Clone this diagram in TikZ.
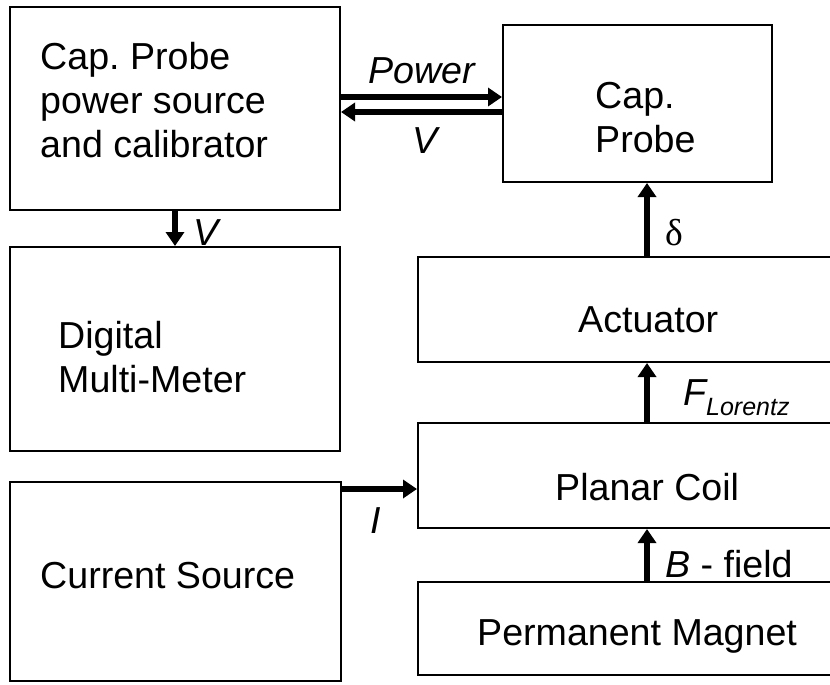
\documentclass[tikz,border=0pt]{standalone}
\usepackage{fontspec}
\setmainfont{Liberation Sans}
\newfontfamily\greekfont{Liberation Serif}
\usetikzlibrary{arrows.meta}
\frenchspacing

\begin{document}
\begin{tikzpicture}[
    x=1pt, y=-1pt,
    every node/.style={font=\fontsize{37.6}{44}\selectfont},
]

\tikzset{
    block/.style={rectangle, draw=black, line width=2pt, inner sep=0pt},
    blocktext/.style={anchor=base west, align=left, inner sep=0pt},
    flowlabel/.style={anchor=base west, inner sep=0pt, font=\fontsize{37.6}{44}\selectfont\itshape},
    flow/.style={line width=6.5pt, -{Triangle[length=14pt, width=18pt]}},
}

% ================================================================
% GEOMETRY (pixels of the 830 x 685 sheet, y downwards)
%   left column   x = 10 .. 340
%   probe         x = 503 .. 772, y = 25 .. 182
%   right column  x = 418 .. (off the sheet)
%   vertical flows on the right sit at x = 647
%   (a text of several lines sits on the baseline of its last line)
% ================================================================

\useasboundingbox (0,0) rectangle (830,685);
\clip (0,0) rectangle (830,685);

% ---------------------------------------------------------------- blocks
\node[block, minimum width=330pt, minimum height=203pt] (supply) at (175,108.5) {};
\node[block, minimum width=269pt, minimum height=157pt] (probe)  at (637.5,103.5) {};
\node[block, minimum width=330pt, minimum height=204pt] (dmm)    at (175,349) {};
\node[block, minimum width=331pt, minimum height=199pt] (source) at (175.5,581.5) {};
\node[block, minimum width=422pt, minimum height=105pt] (act)    at (629,309.5) {};
\node[block, minimum width=422pt, minimum height=105pt] (coil)   at (629,475.5) {};
\node[block, minimum width=422pt, minimum height=93pt]  (magnet) at (629,628.5) {};

% ---------------------------------------------------------------- block texts
\node[blocktext] (supplytext) at (40,157)  {Cap. Probe\\power source\\and calibrator};
\node[blocktext] (probetext)  at (595,152) {Cap.\\Probe};
\node[blocktext] (dmmtext)    at (58,392)  {Digital\\Multi-Meter};
\node[blocktext] (sourcetext) at (40,588)  {Current Source};
\node[blocktext] (acttext)    at (578,332) {Actuator};
\node[blocktext] (coiltext)   at (555,500) {Planar Coil};
\node[blocktext] (magnettext) at (477,645) {Permanent Magnet};

% ---------------------------------------------------------------- flows
\coordinate (rightflow) at (647,0);

\draw[flow] ([yshift=11.5pt]supply.east) -- ([yshift=11.5pt]supply.east -| probe.west);
\draw[flow] ([yshift=-3.5pt]supply.east -| probe.west) -- ([yshift=-3.5pt]supply.east);
\draw[flow] (supply.south) -- (dmm.north);
\draw[flow] ([yshift=92.5pt]source.east) -- ([yshift=92.5pt]source.east -| coil.west);
\draw[flow] (magnet.north -| rightflow) -- (coil.south -| rightflow);
\draw[flow] (coil.north -| rightflow) -- (act.south -| rightflow);
\draw[flow] (act.north -| rightflow) -- (probe.south -| rightflow);

% ---------------------------------------------------------------- flow labels
\node[flowlabel] (powerlabel)  at (368,83)  {Power};
\node[flowlabel] (vbacklabel)  at (412,153) {V};
\node[flowlabel] (vdownlabel)  at (193,245) {V};
\node[flowlabel] (ilabel)      at (370,533) {I};
\node[flowlabel, font=\fontsize{37.6}{44}\selectfont] (deltalabel) at (665,245) {\greekfont δ};
\node[flowlabel] (forcelabel)  at (683,405)
    {F\raisebox{-10pt}{\fontsize{25}{25}\selectfont Lorentz}};
\node[flowlabel, font=\fontsize{37.6}{44}\selectfont] (fieldlabel) at (665,577) {\textit{B} - field};

\end{tikzpicture}
\end{document}
